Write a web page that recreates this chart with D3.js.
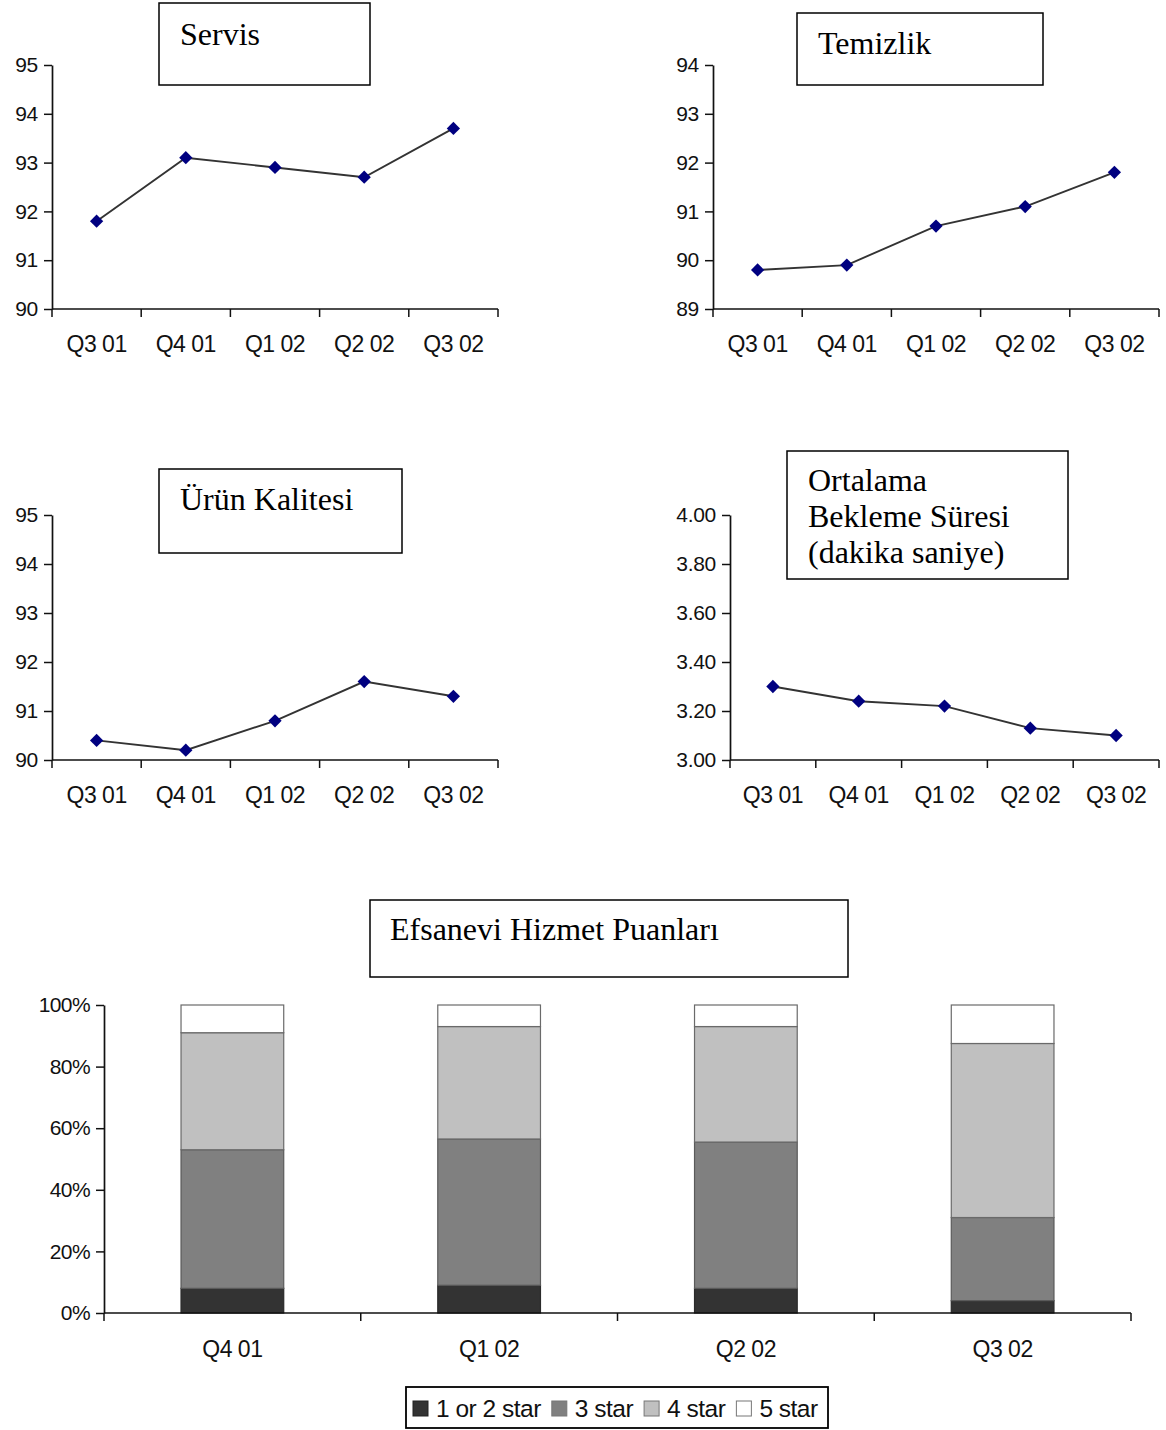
<!DOCTYPE html>
<html>
<head>
<meta charset="utf-8">
<script src="https://cdn.jsdelivr.net/npm/d3@7"></script>
<style>
  html, body { margin: 0; padding: 0; background: #fff; }
  svg { display: block; }
  .lbl { font-family: "Liberation Sans", Arial, sans-serif; fill: #111; }
  .ttl { font-family: "Liberation Serif", "Times New Roman", serif; fill: #000; }
</style>
</head>
<body>
<svg id="chart" width="1166" height="1430"></svg>
<script>
// ---------------- DATA ----------------
const quarters = ["Q3 01", "Q4 01", "Q1 02", "Q2 02", "Q3 02"];
const servis   = [91.8, 93.1, 92.9, 92.7, 93.7];
const temizlik = [89.8, 89.9, 90.7, 91.1, 91.8];
const urun     = [90.4, 90.2, 90.8, 91.6, 91.3];
const bekleme  = [3.30, 3.24, 3.22, 3.13, 3.10];

const servisTicks   = [90, 91, 92, 93, 94, 95];
const temizlikTicks = [89, 90, 91, 92, 93, 94];
const urunTicks     = [90, 91, 92, 93, 94, 95];
const beklemeTicks  = [3.00, 3.20, 3.40, 3.60, 3.80, 4.00];

const barQuarters = ["Q4 01", "Q1 02", "Q2 02", "Q3 02"];
const star12 = [8, 9, 8, 4];
const star3  = [45, 47.5, 47.5, 27];
const star4  = [38, 36.5, 37.5, 56.5];
const star5  = [9, 7, 7, 12.5];
const starNames = ["1 or 2 star", "3 star", "4 star", "5 star"];
const pctTicks = [0, 20, 40, 60, 80, 100];

// ---------------- DRAW ----------------
const svg = d3.select("#chart");
const INK = "#111";

function titleBox(x0, y0, x1, y1, lines, tx, ty, lh) {
  svg.append("rect").attr("x", x0).attr("y", y0).attr("width", x1 - x0).attr("height", y1 - y0)
    .attr("fill", "#fff").attr("stroke", "#000").attr("stroke-width", 1.5);
  lines.forEach((t, i) => {
    svg.append("text").attr("class", "ttl").attr("x", tx).attr("y", ty + i * lh)
      .attr("font-size", 32).text(t);
  });
}

function lineChart(cfg) {
  const g = svg.append("g");
  const x = d3.scaleBand().domain(quarters).range([cfg.left, cfg.right]).paddingInner(0).paddingOuter(0);
  const y = d3.scaleLinear().domain([cfg.ticks[0], cfg.ticks[cfg.ticks.length - 1]]).range([cfg.bottom, cfg.top]);

  // y axis
  const ya = d3.axisLeft(y).tickValues(cfg.ticks).tickSize(8).tickSizeOuter(0).tickPadding(6)
    .tickFormat(cfg.fmt);
  const yg = g.append("g").attr("transform", `translate(${cfg.left},0)`).call(ya);
  yg.select(".domain").attr("stroke", INK).attr("stroke-width", 1.7);
  yg.selectAll(".tick line").attr("stroke", INK).attr("stroke-width", 1.5);
  yg.selectAll(".tick text").attr("class", "lbl").attr("font-size", 21).attr("fill", INK)
    .style("letter-spacing", "-0.3px");

  // x axis (ticks at band boundaries)
  g.append("line").attr("x1", cfg.left).attr("x2", cfg.right).attr("y1", cfg.bottom).attr("y2", cfg.bottom)
    .attr("stroke", INK).attr("stroke-width", 1.7);
  const bounds = quarters.map(q => x(q)).concat([cfg.right]);
  g.selectAll(".xt").data(bounds).join("line")
    .attr("x1", d => d).attr("x2", d => d).attr("y1", cfg.bottom).attr("y2", cfg.bottom + 8)
    .attr("stroke", INK).attr("stroke-width", 1.5);
  g.selectAll(".xl").data(quarters).join("text").attr("class", "lbl")
    .attr("x", d => x(d) + x.bandwidth() / 2).attr("y", cfg.bottom + 43)
    .attr("text-anchor", "middle").attr("font-size", 23).style("letter-spacing", "-0.5px")
    .text(d => d);

  // line
  const pts = quarters.map((q, i) => [x(q) + x.bandwidth() / 2, y(cfg.values[i])]);
  g.append("path").attr("d", d3.line()(pts)).attr("fill", "none")
    .attr("stroke", "#333").attr("stroke-width", 1.9);
  const sym = d3.symbol().type(d3.symbolSquare).size(88);
  g.selectAll(".mk").data(pts).join("path").attr("d", sym)
    .attr("transform", d => `translate(${d[0]},${d[1]}) rotate(45)`)
    .attr("fill", "#000080");
}

lineChart({ left: 52, right: 498, top: 65, bottom: 309, ticks: servisTicks, values: servis, fmt: d3.format("d") });
lineChart({ left: 713, right: 1159, top: 65, bottom: 309, ticks: temizlikTicks, values: temizlik, fmt: d3.format("d") });
lineChart({ left: 52, right: 498, top: 515, bottom: 760, ticks: urunTicks, values: urun, fmt: d3.format("d") });
lineChart({ left: 730, right: 1159, top: 515, bottom: 760, ticks: beklemeTicks, values: bekleme, fmt: d3.format(".2f") });

titleBox(159, 3, 370, 85, ["Servis"], 180, 45, 0);
titleBox(797, 13, 1043, 85, ["Temizlik"], 818, 54, 0);
titleBox(159, 469, 402, 553, ["Ürün Kalitesi"], 180, 510, 0);
titleBox(787, 451, 1068, 579, ["Ortalama", "Bekleme Süresi", "(dakika saniye)"], 808, 491, 36);

// ---------------- STACKED BAR ----------------
titleBox(370, 900, 848, 977, ["Efsanevi Hizmet Puanları"], 390, 940, 0);

const bL = 104, bR = 1131, bT = 1005, bB = 1313;
const bx = d3.scaleBand().domain(barQuarters).range([bL, bR]).paddingInner(0).paddingOuter(0);
const by = d3.scaleLinear().domain([0, 100]).range([bB, bT]);
const barW = bx.bandwidth() * 0.4;
const fills = ["#333333", "#808080", "#c0c0c0", "#ffffff"];
const strokes = ["#2a2a2a", "#5a5a5a", "#6a6a6a", "#6a6a6a"];

const table = barQuarters.map((q, i) => ({ q, s0: star12[i], s1: star3[i], s2: star4[i], s3: star5[i] }));
const stack = d3.stack().keys(["s0", "s1", "s2", "s3"])(table);

const bg = svg.append("g");
stack.forEach((layer, li) => {
  bg.selectAll(".seg" + li).data(layer).join("rect")
    .attr("x", d => bx(d.data.q) + (bx.bandwidth() - barW) / 2)
    .attr("y", d => by(d[1]))
    .attr("width", barW)
    .attr("height", d => by(d[0]) - by(d[1]))
    .attr("fill", fills[li]).attr("stroke", strokes[li]).attr("stroke-width", 1.2);
});

const bya = d3.axisLeft(by).tickValues(pctTicks).tickSize(8).tickSizeOuter(0).tickPadding(6)
  .tickFormat(d => d + "%");
const byg = bg.append("g").attr("transform", `translate(${bL},0)`).call(bya);
byg.select(".domain").attr("stroke", INK).attr("stroke-width", 1.7);
byg.selectAll(".tick line").attr("stroke", INK).attr("stroke-width", 1.5);
byg.selectAll(".tick text").attr("class", "lbl").attr("font-size", 21).attr("fill", INK)
  .style("letter-spacing", "-0.6px");

bg.append("line").attr("x1", bL).attr("x2", bR).attr("y1", bB).attr("y2", bB)
  .attr("stroke", INK).attr("stroke-width", 1.7);
const bBounds = barQuarters.map(q => bx(q)).concat([bR]);
bg.selectAll(".bxt").data(bBounds).join("line")
  .attr("x1", d => d).attr("x2", d => d).attr("y1", bB).attr("y2", bB + 8)
  .attr("stroke", INK).attr("stroke-width", 1.5);
bg.selectAll(".bxl").data(barQuarters).join("text").attr("class", "lbl")
  .attr("x", d => bx(d) + bx.bandwidth() / 2).attr("y", bB + 44)
  .attr("text-anchor", "middle").attr("font-size", 23).style("letter-spacing", "-0.5px")
  .text(d => d);

// legend
const lg = svg.append("g");
lg.append("rect").attr("x", 406).attr("y", 1387).attr("width", 422).attr("height", 41)
  .attr("fill", "#fff").attr("stroke", "#000").attr("stroke-width", 1.8);
let lx = 413;
starNames.forEach((name, i) => {
  lg.append("rect").attr("x", lx).attr("y", 1401).attr("width", 15).attr("height", 15)
    .attr("fill", fills[i]).attr("stroke", i === 0 ? "#222" : "#777").attr("stroke-width", 1);
  const t = lg.append("text").attr("class", "lbl").attr("x", lx + 23).attr("y", 1417)
    .attr("font-size", 24.5).style("letter-spacing", "-0.5px").text(name);
  lx = lx + 23 + t.node().getComputedTextLength() + 11;
});
</script>
</body>
</html>
